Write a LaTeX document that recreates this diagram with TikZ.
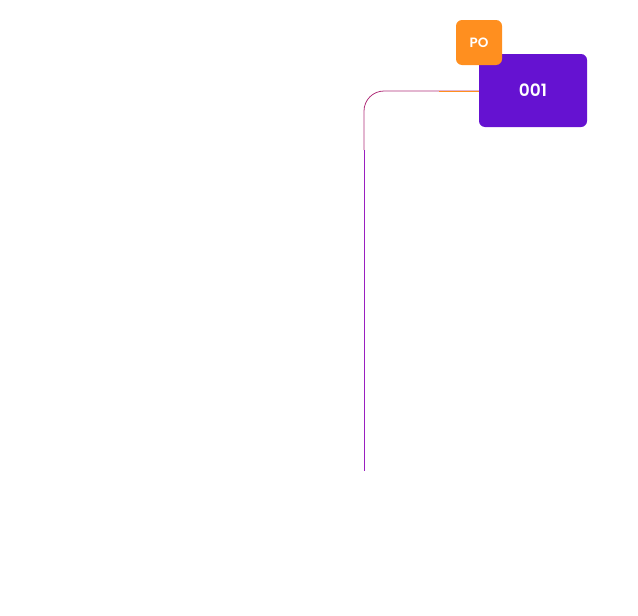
\documentclass[tikz,border=0pt]{standalone}
\usepackage{fontspec}
\setmainfont{Poppins}[UprightFont=* Medium, BoldFont=* SemiBold]
\usetikzlibrary{positioning}
\definecolor{idpurple}{HTML}{6512D1}
\definecolor{tagorange}{HTML}{FF8F1F}
\definecolor{linkmag}{HTML}{B0307A}
\definecolor{linkviolet}{HTML}{9A1FC0}
\begin{document}
\begin{tikzpicture}[x=1pt,y=-1pt]
  \tikzset{idbox/.style = {shape=rectangle, rounded corners=6pt, fill=idpurple, text=white, minimum width=108pt, minimum height=73pt, font=\fontsize{17}{19}\selectfont\bfseries}}
  \tikzset{tagbox/.style = {shape=rectangle, rounded corners=6pt, fill=tagorange, text=white, minimum width=46pt, minimum height=45pt, font=\fontsize{13.5}{15}\selectfont\bfseries}}

  \useasboundingbox (0,0) rectangle (638,616);

  \coordinate (lineend) at (364,471);
  \node [idbox] (Id) at (533,90.5) {001};
  \node [tagbox] (Tag) at (479,42.5) {PO};

  % Link line
  \draw [linkviolet, line width=0.8pt] (364,150) -- (lineend);
  \draw [linkmag, line width=0.8pt, rounded corners=20pt] (Id.west |- 0,91) -| (364,150);
  \draw [tagorange, line width=0.8pt] (Id.west |- 0,91) -- ++(-40,0);
\end{tikzpicture}
\end{document}
